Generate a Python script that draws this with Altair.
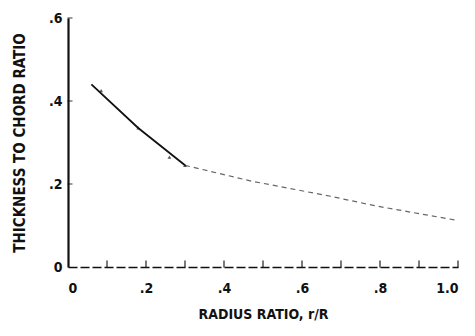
import altair as alt
import pandas as pd

# Blade thickness-to-chord ratio along the radius
r_inner = [0.06, 0.18, 0.30]
tc_inner = [0.44, 0.335, 0.245]
r_outer = [0.30, 0.47, 0.67, 0.79, 1.00]
tc_outer = [0.245, 0.207, 0.171, 0.147, 0.112]
marker_r = [0.085, 0.18, 0.26, 0.30]
marker_tc = [0.425, 0.335, 0.265, 0.245]

x_ticks = [0.1, 0.2, 0.3, 0.4, 0.5, 0.6, 0.7, 0.8, 0.9, 1.0]
y_ticks = [0.2, 0.4, 0.6]
x_tick_values = [0, 0.2, 0.4, 0.6, 0.8, 1.0]
y_tick_values = [0, 0.2, 0.4, 0.6]

FONT = "DejaVu Sans Condensed, Liberation Sans Narrow, Arial Narrow, sans-serif"

inner = pd.DataFrame({"r": r_inner, "tc": tc_inner})
outer = pd.DataFrame({"r": r_outer, "tc": tc_outer})
markers = pd.DataFrame({"r": marker_r, "tc": marker_tc})
xt = pd.DataFrame({"r": x_ticks})
yt = pd.DataFrame({"tc": y_ticks})

x_scale = alt.Scale(domain=[0, 1.0], nice=False, zero=True)
y_scale = alt.Scale(domain=[0, 0.6], nice=False, zero=True)

x_axis = alt.Axis(
    title="RADIUS RATIO, r/R",
    values=x_tick_values,
    labelExpr="datum.value == 0 ? '0' : datum.value == 1 ? '1.0' : replace(format(datum.value, '.1f'), '0.', '.')",
    ticks=False,
    grid=False,
    domainColor="#111",
    domainWidth=1.5,
    domainDash=[9, 3],
    labelFont=FONT,
    labelFontSize=14,
    labelFontWeight="bold",
    labelColor="#111",
    labelPadding=14,
    titleFont=FONT,
    titleFontSize=14,
    titleFontWeight="bold",
    titleColor="#111",
    titlePadding=12,
)
y_axis = alt.Axis(
    title="THICKNESS TO CHORD RATIO",
    values=y_tick_values,
    labelExpr="datum.value == 0 ? '0' : replace(format(datum.value, '.1f'), '0.', '.')",
    ticks=False,
    grid=False,
    domainColor="#111",
    domainWidth=2.2,
    labelFont=FONT,
    labelFontSize=14,
    labelFontWeight="bold",
    labelColor="#111",
    labelPadding=6,
    titleFont=FONT,
    titleFontSize=15,
    titleFontWeight="bold",
    titleColor="#111",
    titlePadding=21,
)

base_x = alt.X("r:Q", scale=x_scale, axis=x_axis)
base_y = alt.Y("tc:Q", scale=y_scale, axis=y_axis)

solid = alt.Chart(inner).mark_line(color="#111", strokeWidth=1.8).encode(x=base_x, y=base_y)
faint = alt.Chart(outer).mark_line(
    color="#333", strokeWidth=1.2, strokeDash=[5, 4], opacity=0.75
).encode(x="r:Q", y="tc:Q")
tri = alt.Chart(markers).mark_point(
    shape="triangle-up", filled=True, color="#111", size=14
).encode(x="r:Q", y="tc:Q")

# inward tick marks along both axes
xticks = alt.Chart(xt).mark_tick(
    orient="vertical", color="#111", thickness=1.6, size=7, yOffset=-3
).encode(x="r:Q", y=alt.datum(0))
yticks = alt.Chart(yt).mark_tick(
    orient="horizontal", color="#111", thickness=1.2, size=5, xOffset=2
).encode(y="tc:Q", x=alt.datum(0))

chart = (
    alt.layer(solid, faint, tri, xticks, yticks)
    .properties(
        width=390,
        height=249,
        autosize=alt.AutoSizeParams(type="none"),
        padding={"left": 68, "top": 18, "right": 17, "bottom": 69},
        background="white",
    )
    .configure_view(stroke=None)
)

chart.save("out.html", embed_options={"renderer": "svg", "actions": False})
